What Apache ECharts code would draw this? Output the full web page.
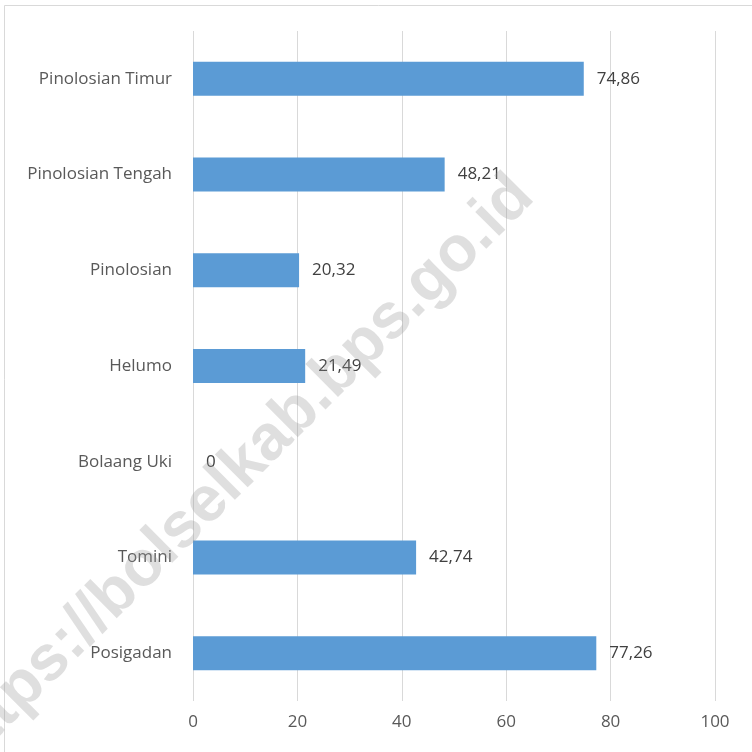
<!DOCTYPE html>
<html><head><meta charset="utf-8">
<script src="https://cdn.jsdelivr.net/npm/echarts@6/dist/echarts.min.js"></script>
<style>html,body{margin:0;padding:0;background:#fff}#c{width:752px;height:752px}</style>
</head><body><div id="c"></div>
<script>
const categories = ['Posigadan','Tomini','Bolaang Uki','Helumo','Pinolosian','Pinolosian Tengah','Pinolosian Timur'];
const values = [77.26, 42.74, 0, 21.49, 20.32, 48.21, 74.86];
const xTicks = [0, 20, 40, 60, 80, 100];
const watermark = 'https://bolselkab.bps.go.id';

const font = '"Open Sans","Noto Sans",sans-serif';
const chart = echarts.init(document.getElementById('c'), null, {renderer:'canvas'});
chart.setOption({
  animation:false,
  backgroundColor:'#fff',
  grid:{left:193, right:37, top:31, bottom:51, containLabel:false},
  xAxis:{type:'value', min:xTicks[0], max:xTicks[xTicks.length-1], interval:20,
    axisLine:{show:false}, axisTick:{show:false},
    splitLine:{lineStyle:{color:'#d9d9d9', width:1}},
    axisLabel:{color:'#595959', fontSize:17, fontFamily:font, margin:13}},
  yAxis:{type:'category', data:categories,
    axisLine:{show:false}, axisTick:{show:false},
    axisLabel:{color:'#595959', fontSize:17, fontFamily:font, margin:21}},
  series:[{type:'bar', data:values, barWidth:34,
    itemStyle:{color:'#5b9bd5'},
    label:{show:true, position:'right', distance:13, color:'#404040', fontSize:17, fontFamily:font,
      formatter:p => String(p.value).replace('.', ',')}}],
  graphic:[
    {type:'rect', z:-1, shape:{x:4.5, y:5.5, width:800, height:800}, style:{fill:'none', stroke:'#d9d9d9', lineWidth:1}},
    {type:'text', z:100, x:237, y:473, rotation:Math.PI/4, originX:0, originY:0,
      style:{text:watermark, fill:'rgba(150,150,150,0.3)', font:'bold 64px "Liberation Sans",Arial,sans-serif', align:'center', verticalAlign:'middle'}}
  ]
});
</script></body></html>
